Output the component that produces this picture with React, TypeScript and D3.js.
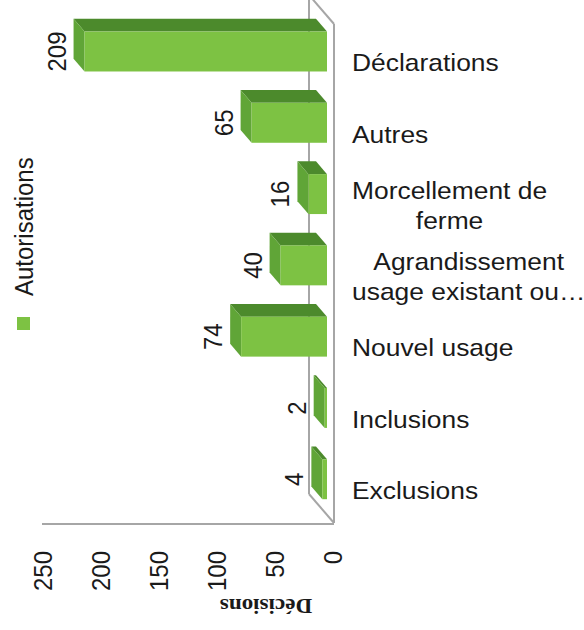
import { max, scaleBand, scaleLinear } from 'd3'
import { useMemo } from 'react'

// data, top to bottom
const categories = [
  'Déclarations',
  'Autres',
  'Morcellement de ferme',
  'Agrandissement usage existant ou…',
  'Nouvel usage',
  'Inclusions',
  'Exclusions',
]
const categoryLines = [
  ['Déclarations'],
  ['Autres'],
  ['Morcellement de', 'ferme'],
  ['Agrandissement', 'usage existant ou…'],
  ['Nouvel usage'],
  ['Inclusions'],
  ['Exclusions'],
]
const decisions = [209, 65, 16, 40, 74, 2, 4]
const valueTicks = [0, 50, 100, 150, 200, 250]
const seriesName = 'Autorisations'
const axisTitle = 'Décisions'

const width = 584
const height = 630
const plot = { top: 24, bottom: 523, zeroX: 334, maxX: 44 }
const depth = { dx: 25, dy: 29 }
const barFront = 0.28
const barBack = 0.72
const stretch = 1.1
const fontSize = 24
const sans = '"Liberation Sans", Arial, sans-serif'
const labelX = 352
const lineHeight = 30

const colors = {
  front: '#7dc243',
  top: '#4c8a2c',
  side: '#60a537',
  wall: '#a6a6a6',
  text: '#1a1a1a',
}

const shift = (x: number, y: number, t: number): [number, number] => [x - depth.dx * t, y - depth.dy * t]
const pts = (list: [number, number][]) => list.map((p) => p.join(',')).join(' ')

const measure = (() => {
  const ctx = document.createElement('canvas').getContext('2d')
  return (s: string) => {
    if (!ctx) return s.length * fontSize * 0.5
    ctx.font = `${fontSize}px ${sans}`
    return ctx.measureText(s).width
  }
})()

const App = () => {
  const chart = useMemo(() => {
    const x = scaleLinear().domain([0, max(valueTicks) ?? 250]).range([plot.zeroX, plot.maxX])
    const y = scaleBand<string>()
      .domain(categories)
      .range([plot.top, plot.bottom])
      .paddingInner(0.44)
      .paddingOuter(0.22)

    const bars = categories.map((c, i) => {
      const v = decisions[i]
      const y0 = y(c) ?? 0
      const h = y.bandwidth()
      const xv = x(v)
      const x0 = x(0)
      const [fx, fy] = shift(xv, y0, barFront)
      const [fx0] = shift(x0, y0, barFront)
      const [bx] = shift(xv, y0, barBack)
      return {
        key: c,
        value: v,
        front: { x: fx, y: fy, w: fx0 - fx, h },
        top: pts([shift(xv, y0, barFront), shift(x0, y0, barFront), shift(x0, y0, barBack), shift(xv, y0, barBack)]),
        side: pts([shift(xv, y0, barFront), shift(xv, y0, barBack), shift(xv, y0 + h, barBack), shift(xv, y0 + h, barFront)]),
        labelX: bx - 8,
        labelY: fy + h / 2,
      }
    })

    const step = y.step()
    const labels = categoryLines.map((lines, i) => {
      const center = plot.top + step * (y.paddingOuter() + i + 0.5 - y.paddingInner() / 2) + 3
      const blockW = (max(lines, (l) => measure(l)) ?? 0) * stretch
      return {
        key: categories[i],
        lines,
        cx: labelX + blockW / 2,
        multi: lines.length > 1,
        firstBaseline: center - ((lines.length - 1) * lineHeight) / 2 + fontSize * 0.716 * 0.5,
      }
    })

    const ticks = valueTicks.map((v) => ({ v, x: x(v) - 1 + (fontSize * 0.716 * stretch) / 2 }))
    const x0 = x(0)
    const xMax = x(max(valueTicks) ?? 250)
    const back0 = shift(x0, plot.top, 1)
    const backB = shift(x0, plot.bottom, 1)
    return { bars, labels, ticks, x0, xMax, back0, backB }
  }, [])

  return (
    <svg
      width={width}
      height={height}
      viewBox={`0 0 ${width} ${height}`}
      style={{ position: 'absolute', left: 0, top: 0, background: '#fff' }}
    >
      {/* wall of the 3D frame */}
      <g stroke={colors.wall} strokeWidth={2} fill="none">
        <line x1={chart.back0[0]} y1={chart.back0[1]} x2={chart.backB[0]} y2={chart.backB[1]} />
        <line x1={chart.back0[0]} y1={chart.back0[1]} x2={chart.x0} y2={plot.top} />
        <line x1={chart.x0} y1={plot.top} x2={chart.x0} y2={plot.bottom} />
        <line x1={chart.backB[0]} y1={chart.backB[1]} x2={chart.x0} y2={plot.bottom} />
        <line x1={chart.xMax - 2} y1={plot.bottom + 1} x2={chart.x0} y2={plot.bottom + 1} />
      </g>

      {chart.bars.map((b) => (
        <g key={b.key}>
          <polygon points={b.top} fill={colors.top} />
          <polygon points={b.side} fill={colors.side} />
          <rect x={b.front.x} y={b.front.y} width={Math.max(b.front.w, 0)} height={b.front.h} fill={colors.front} />
          <text
            transform={`translate(${b.labelX},${b.labelY}) scale(${stretch},1) rotate(-90)`}
            textAnchor="middle"
            fontFamily={sans}
            fontSize={fontSize}
            fill={colors.text}
          >
            {b.value}
          </text>
        </g>
      ))}

      {chart.labels.map((l) => (
        <g key={l.key}>
          {l.lines.map((line, j) => (
            <text
              key={line}
              transform={`translate(${l.multi ? l.cx : labelX},${l.firstBaseline + j * lineHeight}) scale(${stretch},1)`}
              textAnchor={l.multi ? 'middle' : 'start'}
              fontFamily={sans}
              fontSize={fontSize}
              fill={colors.text}
            >
              {line}
            </text>
          ))}
        </g>
      ))}

      {chart.ticks.map((t) => (
        <text
          key={t.v}
          transform={`translate(${t.x},551) scale(${stretch},1) rotate(-90)`}
          textAnchor="end"
          fontFamily={sans}
          fontSize={fontSize}
          fill={colors.text}
        >
          {t.v}
        </text>
      ))}

      <text
        transform="translate(266,599) scale(1.1,1) rotate(180)"
        textAnchor="middle"
        fontFamily='"Liberation Serif", "Times New Roman", serif'
        fontWeight="bold"
        fontSize={21}
        fill={colors.text}
      >
        {axisTitle}
      </text>

      {/* legend */}
      <rect x={17} y={317} width={13} height={13} fill={colors.front} />
      <text
        transform={`translate(33,296) scale(${stretch},1) rotate(-90)`}
        textAnchor="start"
        fontFamily={sans}
        fontSize={fontSize}
        fill={colors.text}
      >
        {seriesName}
      </text>
    </svg>
  )
}

export default App
